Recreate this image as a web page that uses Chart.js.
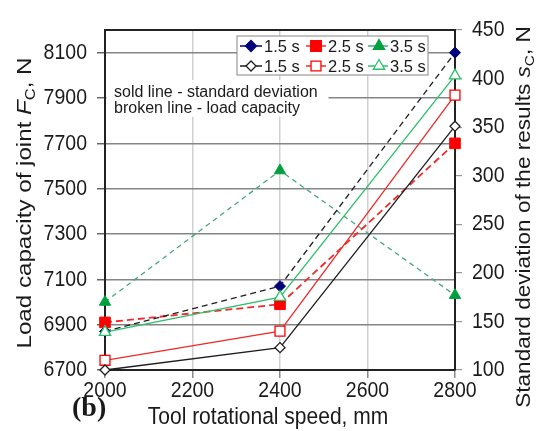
<!DOCTYPE html>
<html>
<head>
<meta charset="utf-8">
<script src="https://cdn.jsdelivr.net/npm/chart.js@4.4.0/dist/chart.umd.min.js"></script>
<style>
html, body { margin: 0; padding: 0; background: #fff; }
#wrap { width: 549px; height: 431px; }
</style>
</head>
<body>
<div id="wrap"><canvas id="chart" width="549" height="431"></canvas></div>
<script>
// vitesse de rotation de l'outil
const speeds = [2000, 2400, 2800];

// capacité de charge Fc, N (axe gauche, lignes pointillées)
const load15 = [6870, 7070, 8100];
const load25 = [6910, 6990, 7700];
const load35 = [7000, 7580, 7030];

// écart type sc, N (axe droit, lignes pleines)
const sd15 = [100, 123, 351];
const sd25 = [110, 140, 383];
const sd35 = [139, 175, 403];

const leftTicks = [6700, 6900, 7100, 7300, 7500, 7700, 7900, 8100];
const rightTicks = [100, 150, 200, 250, 300, 350, 400, 450];
const xTicks = [2000, 2200, 2400, 2600, 2800];
const timeLabels = ['1.5 s', '2.5 s', '3.5 s'];

const colors = {
    black: '#1e1e1e',
    navy: '#00007a',
    red: '#ff0000',
    redLine: '#ee2b2b',
    green: '#00a03e',
    greenDash: '#45a878',
    greenSolid: '#2cbf6a',
    gridH: '#858585',
    gridV: '#d0d0d0',
    frame: '#222222',
    text: '#1a1a1a'
};
const FONT = "'Liberation Sans', Arial, sans-serif";

function series(ys) {
    return speeds.map((x, i) => ({ x: x, y: ys[i] }));
}

// styles des séries (ligne + marqueur)
const sdStyle = [
    { line: colors.black, marker: colors.black, style: 'rectRot', r: 5 },
    { line: colors.redLine, marker: colors.red, style: 'rect', r: 7 },
    { line: colors.greenSolid, marker: colors.greenSolid, style: 'triangle', r: 6.5 }
];
const loadStyle = [
    { line: colors.black, marker: colors.navy, style: 'rectRot', r: 5.5 },
    { line: colors.redLine, marker: colors.red, style: 'rect', r: 7.5 },
    { line: colors.greenDash, marker: colors.green, style: 'triangle', r: 6.5 }
];

function sdDataset(label, ys, s) {
    return {
        label: label, data: series(ys), yAxisID: 'yR', clip: false,
        borderColor: s.line, borderWidth: 1.3, tension: 0, fill: false,
        pointStyle: s.style, pointRadius: s.r, pointHoverRadius: s.r,
        pointBackgroundColor: '#ffffff', pointBorderColor: s.marker, pointBorderWidth: 1.3
    };
}
function loadDataset(label, ys, s, dash, width) {
    return {
        label: label, data: series(ys), yAxisID: 'yL', clip: false,
        borderColor: s.line, borderWidth: width, borderDash: dash, tension: 0, fill: false,
        pointStyle: s.style, pointRadius: s.r, pointHoverRadius: s.r,
        pointBackgroundColor: s.marker, pointBorderColor: s.marker, pointBorderWidth: 1
    };
}

// texte étiré (l'image d'origine est un peu étirée verticalement)
function putText(ctx, parts, x, y, o) {
    ctx.save();
    ctx.translate(x, y);
    if (o.rotate) ctx.rotate(o.rotate);
    ctx.scale(o.sx || 1, o.sy || 1);
    const family = o.family || FONT;
    const fonts = parts.map(p => (p.italic ? 'italic ' : '') + (p.bold ? 'bold ' : '') +
        (p.sub ? o.size * 0.68 : o.size) + 'px ' + family);
    let w = 0;
    const ws = parts.map((p, i) => { ctx.font = fonts[i]; const m = ctx.measureText(p.t).width; w += m; return m; });
    let cx = o.align === 'center' ? -w / 2 : (o.align === 'right' ? -w : 0);
    ctx.textBaseline = 'middle';
    ctx.textAlign = 'left';
    ctx.fillStyle = o.color || colors.text;
    parts.forEach((p, i) => {
        ctx.font = fonts[i];
        ctx.fillText(p.t, cx, p.sub ? o.size * 0.3 : 0);
        cx += ws[i];
    });
    ctx.restore();
}

function marker(ctx, s, filled, x, y) {
    ctx.save();
    ctx.fillStyle = filled ? s.marker : '#ffffff';
    ctx.strokeStyle = s.marker;
    ctx.lineWidth = 1.3;
    Chart.helpers.drawPoint(ctx, { pointStyle: s.style, radius: s.r, rotation: 0, borderWidth: 1.3 }, x, y);
    ctx.restore();
}

const decor = {
    id: 'decor',
    beforeDatasetsDraw(chart) {
        const ctx = chart.ctx;
        const a = chart.chartArea;
        // cadre du haut
        ctx.save();
        ctx.strokeStyle = colors.frame;
        ctx.lineWidth = 2;
        ctx.beginPath();
        ctx.moveTo(a.left, a.top);
        ctx.lineTo(a.right, a.top);
        ctx.stroke();
        // note explicative sur fond blanc
        ctx.fillStyle = '#ffffff';
        ctx.fillRect(a.left + 1.5, 80, 222, 37);
        ctx.restore();
        putText(ctx, [{ t: 'sold line - standard deviation' }], 114, 93, { size: 16 });
        putText(ctx, [{ t: 'broken line - load capacity' }], 114, 109, { size: 16 });
    },
    afterDatasetsDraw(chart) {
        const ctx = chart.ctx;
        // légende
        ctx.save();
        ctx.fillStyle = '#ffffff';
        ctx.fillRect(237, 36, 191, 39);
        ctx.strokeStyle = '#9a9a9a';
        ctx.lineWidth = 1.2;
        ctx.strokeRect(237, 36, 191, 39);
        ctx.restore();
        const cols = [[240, 262, 251, 264], [306, 326, 316, 328], [368, 388, 379, 390]];
        const rows = [{ y: 46, st: loadStyle, filled: true }, { y: 66, st: sdStyle, filled: false }];
        rows.forEach(row => {
            cols.forEach((c, i) => {
                const s = row.st[i];
                ctx.save();
                ctx.strokeStyle = row.filled && i === 0 ? colors.navy : s.line;
                ctx.lineWidth = 1.5;
                ctx.beginPath();
                ctx.moveTo(c[0], row.y);
                ctx.lineTo(c[1], row.y);
                ctx.stroke();
                ctx.restore();
                marker(ctx, s, row.filled, c[2], row.y);
                putText(ctx, [{ t: timeLabels[i] }], c[3], row.y + 1, { size: 16.5, sy: 1.05 });
            });
        });
    },
    afterDraw(chart) {
        const ctx = chart.ctx;
        const a = chart.chartArea;
        const yL = chart.scales.yL, yR = chart.scales.yR, x = chart.scales.x;
        leftTicks.forEach(v => putText(ctx, [{ t: String(v) }], 87, yL.getPixelForValue(v), { size: 19.5, sy: 1.15, align: 'right' }));
        rightTicks.forEach(v => putText(ctx, [{ t: String(v) }], 472, yR.getPixelForValue(v), { size: 19.5, sy: 1.15 }));
        xTicks.forEach(v => putText(ctx, [{ t: String(v) }], x.getPixelForValue(v), 391, { size: 19.5, sy: 1.15, align: 'center' }));
        const midY = (a.top + a.bottom) / 2;
        putText(ctx, [{ t: 'Load capacity of joint ' }, { t: 'F', italic: true }, { t: 'C', sub: true }, { t: ', N' }],
            25, midY + 3, { size: 21, sx: 1.15, rotate: -Math.PI / 2, align: 'center' });
        putText(ctx, [{ t: 'Standard deviation of the results ' }, { t: 's', italic: true }, { t: 'C', sub: true }, { t: ', N' }],
            524, 217, { size: 20, sx: 1.13, rotate: -Math.PI / 2, align: 'center' });
        putText(ctx, [{ t: 'Tool rotational speed, mm' }], 268, 417, { size: 21, sy: 1.15, align: 'center' });
        putText(ctx, [{ t: '(b)', bold: true }], 72, 409, { size: 28, family: "'Liberation Serif', 'Times New Roman', serif" });
    }
};

new Chart(document.getElementById('chart'), {
    type: 'line',
    data: {
        datasets: [
            sdDataset('1.5 s', sd15, sdStyle[0]),
            sdDataset('2.5 s', sd25, sdStyle[1]),
            sdDataset('3.5 s', sd35, sdStyle[2]),
            loadDataset('1.5 s', load15, loadStyle[0], [6, 4], 1.3),
            loadDataset('2.5 s', load25, loadStyle[1], [7, 4], 1.8),
            loadDataset('3.5 s', load35, loadStyle[2], [5, 4], 1.3)
        ]
    },
    plugins: [decor],
    options: {
        responsive: false,
        animation: false,
        layout: { padding: { top: 30, left: 0, right: 0, bottom: 0 } },
        plugins: { legend: { display: false }, tooltip: { enabled: false } },
        scales: {
            x: {
                type: 'linear', min: 2000, max: 2800,
                afterBuildTicks: s => { s.ticks = xTicks.map(v => ({ value: v })); },
                afterFit: s => { s.height = 61; },
                ticks: { display: false },
                grid: { color: colors.gridV, lineWidth: 1.5, tickColor: '#8a8a8a', tickLength: 8, drawTicks: true },
                border: { color: colors.frame, width: 2 }
            },
            yL: {
                type: 'linear', position: 'left', min: 6700, max: 8200,
                afterBuildTicks: s => { s.ticks = leftTicks.map(v => ({ value: v })); },
                afterFit: s => { s.width = 105; },
                ticks: { display: false },
                grid: { color: colors.gridH, lineWidth: 1.5, tickColor: '#666', tickLength: 8 },
                border: { color: colors.frame, width: 2 }
            },
            yR: {
                type: 'linear', position: 'right', min: 100, max: 450,
                afterBuildTicks: s => { s.ticks = rightTicks.map(v => ({ value: v })); },
                afterFit: s => { s.width = 94; },
                ticks: { display: false },
                grid: { drawOnChartArea: false, tickColor: '#999', tickLength: 7, lineWidth: 1.2 },
                border: { color: colors.frame, width: 2 }
            }
        }
    }
});
</script>
</body>
</html>
